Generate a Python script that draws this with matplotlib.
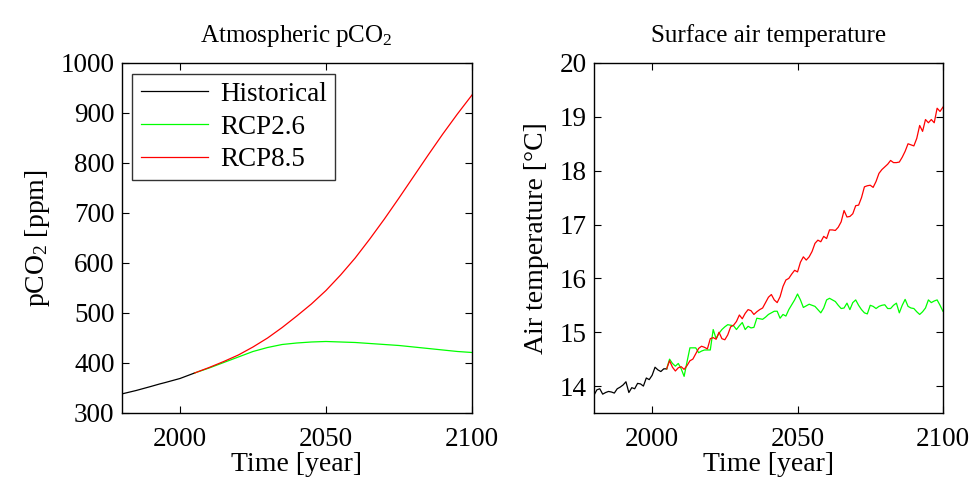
import numpy as np
import matplotlib
matplotlib.use("Agg")
import matplotlib.pyplot as plt

plt.rcParams['font.family'] = ['Liberation Serif', 'DejaVu Serif']
plt.rcParams['mathtext.fontset'] = 'custom'
plt.rcParams['mathtext.rm'] = 'Liberation Serif'
plt.rcParams['mathtext.it'] = 'Liberation Serif:italic'

# ---- CO2 data (ppm) ----
co2_hist_years = [1980, 1985, 1990, 1993, 1995, 2000, 2005]
co2_hist = [338, 345, 353, 358, 361, 369, 380]
co2_rcp_years = [2005, 2010, 2015, 2020, 2025, 2030, 2035, 2040, 2045, 2050,
                 2055, 2060, 2065, 2070, 2075, 2080, 2085, 2090, 2095, 2100]
co2_rcp26 = [380, 390, 401, 412, 423, 431, 437, 440, 442, 443,
             442, 441, 439, 437, 435, 432, 429, 426, 423, 421]
co2_rcp85 = [380, 391, 403, 416, 432, 450, 471, 494, 518, 545,
             576, 610, 648, 688, 730, 773, 816, 858, 898, 936]

# ---- Surface air temperature (deg C) ----
t_hist_years = list(range(1980, 2006))
t_hist = [13.83, 13.93, 13.95, 13.85, 13.88, 13.90, 13.89, 13.87, 13.95, 13.98,
          14.02, 14.08, 13.88, 13.97, 13.95, 14.05, 14.04, 14.00, 14.15, 14.12,
          14.20, 14.35, 14.30, 14.27, 14.32, 14.32]
t_rcp_years = list(range(2005, 2101))
t_rcp85 = [14.32, 14.47, 14.35, 14.28, 14.34, 14.36, 14.31, 14.38, 14.47, 14.50,
           14.60, 14.70, 14.74, 14.72, 14.69, 14.88, 14.90, 14.87, 15.00, 14.88,
           14.86, 14.95, 15.10, 15.13, 15.20, 15.32, 15.25, 15.35, 15.42, 15.40,
           15.33, 15.38, 15.42, 15.45, 15.55, 15.65, 15.70, 15.60, 15.55, 15.66,
           15.85, 15.97, 16.00, 16.08, 16.15, 16.12, 16.30, 16.40, 16.34, 16.40,
           16.50, 16.65, 16.71, 16.68, 16.78, 16.74, 16.90, 16.90, 16.89, 16.95,
           17.05, 17.26, 17.14, 17.15, 17.20, 17.35, 17.36, 17.50, 17.70, 17.72,
           17.73, 17.69, 17.80, 17.95, 18.02, 18.07, 18.12, 18.19, 18.15, 18.15,
           18.16, 18.25, 18.36, 18.50, 18.48, 18.46, 18.60, 18.84, 18.73, 18.95,
           18.89, 18.95, 18.89, 19.16, 19.10, 19.18]
t_rcp26 = [14.32, 14.50, 14.42, 14.37, 14.42, 14.32, 14.18, 14.45, 14.71, 14.71,
           14.71, 14.62, 14.65, 14.67, 14.67, 14.67, 15.05, 14.88, 14.98, 15.05,
           15.10, 15.14, 15.13, 15.12, 15.05, 15.12, 15.18, 15.05, 15.11, 15.08,
           15.09, 15.26, 15.25, 15.24, 15.28, 15.33, 15.36, 15.39, 15.39, 15.26,
           15.33, 15.30, 15.42, 15.51, 15.60, 15.71, 15.60, 15.46, 15.49, 15.52,
           15.50, 15.48, 15.42, 15.36, 15.45, 15.60, 15.63, 15.60, 15.57, 15.50,
           15.44, 15.45, 15.54, 15.42, 15.55, 15.60, 15.50, 15.42, 15.36, 15.34,
           15.50, 15.48, 15.44, 15.48, 15.50, 15.51, 15.44, 15.44, 15.50, 15.54,
           15.36, 15.50, 15.61, 15.48, 15.45, 15.44, 15.38, 15.33, 15.38, 15.45,
           15.60, 15.55, 15.58, 15.60, 15.50, 15.39]

x_ticks = [2000, 2050, 2100]
co2_ticks = [300, 400, 500, 600, 700, 800, 900, 1000]
t_ticks = [14, 15, 16, 17, 18, 19, 20]
series_labels = ['Historical', 'RCP2.6', 'RCP8.5']

fig = plt.figure(figsize=(9.71, 4.79), dpi=100)
ax1 = fig.add_axes([0.1252, 0.1378, 0.3609, 0.7307])
ax2 = fig.add_axes([0.6117, 0.1378, 0.3594, 0.7307])

FS = 19.5
lw = 0.9
ax1.plot(co2_hist_years, co2_hist, color='black', lw=lw, label=series_labels[0])
ax1.plot(co2_rcp_years, co2_rcp26, color=(0, 1, 0), lw=lw, label=series_labels[1])
ax1.plot(co2_rcp_years, co2_rcp85, color=(1, 0, 0), lw=lw, label=series_labels[2])
ax1.set_xlim(1980, 2100)
ax1.set_ylim(300, 1000)
ax1.set_xticks(x_ticks)
ax1.set_yticks(co2_ticks)
ax1.set_xlabel('Time [year]', fontsize=20, labelpad=0)
ax1.set_ylabel('pCO$_2$ [ppm]', fontsize=20, labelpad=6)
ax1.set_title('Atmospheric pCO$_2$', fontsize=18, pad=15)
leg = ax1.legend(loc='upper left', fontsize=FS, frameon=True, fancybox=False,
                 edgecolor='black', handlelength=2.5, handletextpad=0.45,
                 borderpad=0.3, labelspacing=0.28, borderaxespad=0.4)
leg.get_frame().set_linewidth(1.0)

ax2.plot(t_hist_years, t_hist, color='black', lw=lw)
ax2.plot(t_rcp_years, t_rcp26, color=(0, 1, 0), lw=lw)
ax2.plot(t_rcp_years, t_rcp85, color=(1, 0, 0), lw=lw)
ax2.set_xlim(1980, 2100)
ax2.set_ylim(13.5, 20)
ax2.set_xticks(x_ticks)
ax2.set_yticks(t_ticks)
ax2.set_xlabel('Time [year]', fontsize=20, labelpad=0)
ax2.set_ylabel('Air temperature [°C]', fontsize=20, labelpad=8)
ax2.set_title('Surface air temperature', fontsize=18, pad=15)

for ax in (ax1, ax2):
    ax.tick_params(direction='in', top=True, right=True, length=5, width=0.8,
                   labelsize=FS)
    ax.tick_params(axis='y', pad=5)
    ax.tick_params(axis='x', pad=10)
    for s in ax.spines.values():
        s.set_linewidth(1.0)
        s.set_color('black')

fig.savefig('out.png', dpi=100)
